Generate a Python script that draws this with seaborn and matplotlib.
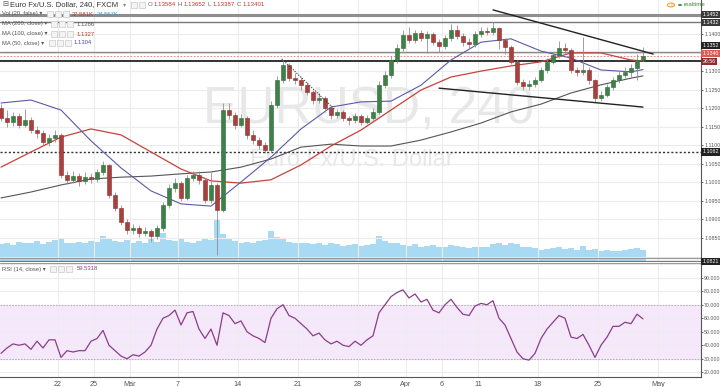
import numpy as np
import pandas as pd
import matplotlib
matplotlib.use("Agg")
import matplotlib.pyplot as plt
from matplotlib.patches import Rectangle, Circle
from matplotlib.lines import Line2D
from matplotlib.ticker import FormatStrFormatter
import seaborn as sns

# ---------------- data (12h candles, EUR/USD) ----------------
first_open = 1.1200
close = [1.1174, 1.1163, 1.1179, 1.1155, 1.1168, 1.1141, 1.1133, 1.1109, 1.1120, 1.1128,
         1.1020, 1.1006, 1.1017, 1.1004, 1.1015, 1.1009, 1.1028, 1.1047, 1.0966, 1.0931,
         1.0893, 1.0872, 1.0877, 1.0864, 1.0869, 1.0855, 1.0877, 1.0939, 1.0985, 1.0998,
         1.0958, 1.1012, 1.1020, 1.1006, 1.0952, 1.0993, 1.0926, 1.1195, 1.1182, 1.1155,
         1.1174, 1.1128, 1.1114, 1.1101, 1.1087, 1.1209, 1.1276, 1.1316, 1.1281, 1.1276,
         1.1262, 1.1244, 1.1222, 1.1228, 1.1200, 1.1182, 1.1190, 1.1174, 1.1168, 1.1179,
         1.1163, 1.1174, 1.1190, 1.1263, 1.1290, 1.1330, 1.1362, 1.1397, 1.1384, 1.1403,
         1.1389, 1.1400, 1.1378, 1.1368, 1.1389, 1.1411, 1.1395, 1.1378, 1.1373, 1.1400,
         1.1408, 1.1405, 1.1416, 1.1384, 1.1365, 1.1325, 1.1271, 1.1260, 1.1265, 1.1276,
         1.1303, 1.1325, 1.1343, 1.1362, 1.1357, 1.1303, 1.1298, 1.1303, 1.1276, 1.1228,
         1.1236, 1.1257, 1.1276, 1.1290, 1.1298, 1.1308, 1.1330, 1.1340]
high = [1.1212, 1.1195, 1.1190, 1.1186, 1.1197, 1.1175, 1.1152, 1.1140, 1.1131, 1.1141,
        1.1133, 1.1031, 1.1030, 1.1026, 1.1027, 1.1024, 1.1036, 1.1058, 1.1050, 1.0975,
        1.0940, 1.0900, 1.0888, 1.0884, 1.0880, 1.0875, 1.0884, 1.0948, 1.0996, 1.1012,
        1.1004, 1.1020, 1.1031, 1.1030, 1.1012, 1.1028, 1.0998, 1.1214, 1.1214, 1.1190,
        1.1185, 1.1180, 1.1140, 1.1122, 1.1110, 1.1220, 1.1288, 1.1330, 1.1322, 1.1295,
        1.1284, 1.1270, 1.1250, 1.1240, 1.1234, 1.1208, 1.1198, 1.1196, 1.1180, 1.1186,
        1.1184, 1.1182, 1.1200, 1.1272, 1.1300, 1.1340, 1.1372, 1.1412, 1.1420, 1.1412,
        1.1410, 1.1408, 1.1405, 1.1386, 1.1398, 1.1428, 1.1425, 1.1402, 1.1388, 1.1408,
        1.1418, 1.1420, 1.1432, 1.1420, 1.1390, 1.1370, 1.1330, 1.1278, 1.1276, 1.1285,
        1.1312, 1.1334, 1.1352, 1.1380, 1.1375, 1.1362, 1.1312, 1.1392, 1.1310, 1.1280,
        1.1245, 1.1265, 1.1285, 1.1300, 1.1310, 1.1318, 1.1345, 1.1365]
low = [1.1165, 1.1150, 1.1152, 1.1146, 1.1148, 1.1132, 1.1120, 1.1100, 1.1098, 1.1110,
       1.1012, 1.0995, 1.0998, 1.0990, 1.0996, 1.0999, 1.1002, 1.1020, 1.0958, 1.0922,
       1.0885, 1.0862, 1.0860, 1.0853, 1.0856, 1.0839, 1.0848, 1.0870, 1.0930, 1.0975,
       1.0950, 1.0952, 1.1003, 1.0996, 1.0944, 1.0945, 1.0805, 1.0920, 1.1170, 1.1145,
       1.1148, 1.1118, 1.1104, 1.1090, 1.1079, 1.1082, 1.1200, 1.1268, 1.1272, 1.1265,
       1.1250, 1.1235, 1.1212, 1.1214, 1.1190, 1.1172, 1.1174, 1.1165, 1.1155, 1.1160,
       1.1155, 1.1158, 1.1168, 1.1185, 1.1255, 1.1282, 1.1322, 1.1355, 1.1375, 1.1376,
       1.1380, 1.1350, 1.1370, 1.1352, 1.1360, 1.1382, 1.1386, 1.1368, 1.1362, 1.1366,
       1.1392, 1.1396, 1.1398, 1.1360, 1.1345, 1.1318, 1.1262, 1.1248, 1.1250, 1.1256,
       1.1270, 1.1296, 1.1318, 1.1336, 1.1345, 1.1296, 1.1288, 1.1290, 1.1265, 1.1217,
       1.1220, 1.1230, 1.1250, 1.1268, 1.1282, 1.1285, 1.1276, 1.1327]
volume_k = [42, 45, 40, 48, 44, 46, 50, 43, 47, 52,
            58, 46, 44, 48, 45, 50, 47, 62, 55, 50,
            48, 52, 46, 50, 44, 56, 48, 70, 52, 50,
            55, 48, 46, 50, 54, 52, 105, 68, 55, 50,
            46, 48, 44, 50, 52, 75, 60, 55, 48, 45,
            44, 46, 42, 45, 40, 44, 42, 38, 40, 42,
            38, 40, 42, 62, 50, 46, 44, 40, 38, 42,
            36, 38, 40, 36, 34, 40, 38, 34, 32, 36,
            34, 36, 42, 45, 40, 44, 42, 36, 34, 32,
            28, 30, 32, 34, 30, 32, 28, 38, 28, 30,
            26, 28, 24, 26, 28, 30, 32, 28]
rsi = [34, 38, 41, 40, 41, 37, 43, 38, 44, 44,
       31, 36, 35, 36, 36, 43, 45, 51, 40, 36,
       32, 30, 33, 32, 35, 40, 52, 60, 62, 66,
       55, 64, 65, 52, 45, 52, 40, 64, 62, 56,
       58, 50, 47, 45, 42, 60, 67, 70, 62, 60,
       56, 52, 47, 49, 44, 41, 43, 40, 39, 43,
       40, 44, 47, 64, 70, 76, 79, 81, 75, 78,
       72, 74, 66, 64, 70, 74, 68, 63, 62, 69,
       71, 70, 73, 60, 55, 45, 35, 30, 29, 34,
       45, 52, 57, 62, 60, 46, 45, 48, 40, 31,
       40, 46, 54, 54, 57, 56, 63, 59.5318]

ma_idx = [0, 5, 10, 15, 20, 25, 30, 35, 40, 45, 50, 55, 60, 65, 70, 75, 80, 85, 90, 95, 100, 105, 107]
ma200 = [1.0958, 1.0974, 1.0993, 1.1009, 1.1014, 1.1017, 1.1023, 1.1028, 1.1041, 1.1063, 1.1095, 1.1103,
         1.1098, 1.1098, 1.1114, 1.1136, 1.1160, 1.1190, 1.1211, 1.1241, 1.1263, 1.1281, 1.1287]
ma100 = [1.1041, 1.1082, 1.1122, 1.1144, 1.1128, 1.1082, 1.1036, 1.1004, 1.0998, 1.1007, 1.1047, 1.1098,
         1.1141, 1.1195, 1.1249, 1.1284, 1.1300, 1.1314, 1.1325, 1.1349, 1.1349, 1.1330, 1.1327]
ma50 = [1.1214, 1.1222, 1.1195, 1.1112, 1.1039, 1.0977, 1.0942, 1.0936, 1.1001, 1.1068, 1.1144, 1.1203,
        1.1217, 1.1219, 1.1262, 1.1330, 1.1378, 1.1387, 1.1354, 1.1335, 1.1303, 1.1298, 1.1304]

tick_labels = ['22', '25', 'Mar', '7', '14', '21', '28', 'Apr', '6', '11', '18', '25', 'May']
tick_days = [5, 8, 11, 15, 20, 25, 30, 34, 37, 40, 45, 50, 55]   # trading days after Feb 15
price_ticks = [1.0850, 1.0900, 1.0950, 1.1000, 1.1050, 1.1100, 1.1150, 1.1200,
               1.1250, 1.1300, 1.1400]
rsi_ticks = [20, 30, 40, 50, 60, 70, 80, 90]

upper_trend_x, upper_trend_y = [82.0, 108.7], [1.1465, 1.1346]
lower_trend_x, lower_trend_y = [73.0, 107.0], [1.1254, 1.1203]
dotted_trend_x, dotted_trend_y = [46.8, 55.7], [1.1333, 1.1195]

last_price = 1.1340

# ---------------- figure ----------------
sns.set_theme(style="white")
plt.rcParams['font.family'] = ['Liberation Sans', 'DejaVu Sans']

W, H = 720, 387
fig = plt.figure(figsize=(W / 100, H / 100), dpi=100)
fig.patch.set_facecolor('white')


def fx(px):
    return px / W


def fy(py):
    return 1 - py / H


n = len(close)
x = np.arange(n)
opens = [first_open] + close[:-1]
df = pd.DataFrame({'x': x, 'open': opens, 'high': high, 'low': low,
                   'close': close, 'vol': volume_k, 'rsi': rsi})
ma_df = pd.DataFrame({'x': ma_idx, 'ma200': ma200, 'ma100': ma100, 'ma50': ma50})
XL = (-1 / 6, 700 / 6)
tick_pos = [2 * d - 0.5 for d in tick_days]
GRID = '#ececec'
AXFS = 3.8   # right-axis label size

# ---- volume pane (behind the price pane) ----
axv = fig.add_axes([0, fy(262), fx(701), 262 / H])
axv.set_xlim(XL)
axv.set_ylim(-2.5, 261 * 2.5)
axv.bar(df['x'], df['vol'], width=1.0, color='#a9daf3', edgecolor='none', zorder=1)
axv.axis('off')

# ---- price pane ----
ax = fig.add_axes([0, fy(262), fx(701), 262 / H])
ax.patch.set_alpha(0)
ax.set_xlim(XL)
ax.set_ylim(1.07853, 1.14917)
for lv in np.arange(1.080, 1.1451, 0.005):
    ax.axhline(lv, color=GRID, lw=0.8, zorder=0)
for tp in tick_pos:
    ax.axvline(tp, color=GRID, lw=0.8, zorder=0)

# watermark
ax.text(fx(203) / fx(701), 1 - 110 / 262, 'EURUSD, 240', transform=ax.transAxes,
        fontsize=37, color='#e8e8e8', ha='left', va='center', zorder=0.5)
ax.text(fx(250) / fx(701), 1 - 160 / 262, 'Euro Fx/U.S. Dollar', transform=ax.transAxes,
        fontsize=17, color='#e8e8e8', ha='left', va='center', zorder=0.5)

# horizontal levels
ax.axhline(1.1452, color='#8e8e8e', lw=2.2, zorder=2)
ax.axhline(1.1432, color='#7a7a7a', lw=1.0, zorder=2)
ax.axhline(1.1352, color='#8a8a8a', lw=1.0, zorder=2)
ax.axhline(last_price, color='#e07a72', lw=0.6, ls=(0, (2, 2)), zorder=2)
ax.axhline(1.1327, color='#222222', lw=1.3, zorder=2)
ax.axhline(1.1082, color='#333333', lw=1.0, ls=(0, (1.5, 1.5)), zorder=2)
ax.axhline(1.0797, color='#9a9a9a', lw=0.9, zorder=2)
ax.axhline(1.0788, color='#777777', lw=0.9, zorder=2)

# moving averages (seaborn)
sns.lineplot(data=ma_df, x='x', y='ma200', ax=ax, color='#555555', lw=0.8, zorder=3)
sns.lineplot(data=ma_df, x='x', y='ma100', ax=ax, color='#c8423c', lw=0.9, zorder=3)
sns.lineplot(data=ma_df, x='x', y='ma50', ax=ax, color='#5a5aa8', lw=0.8, zorder=3)

# candles
up = df['close'] >= df['open']
ax.vlines(df['x'], df['low'], df['high'], color='#8f8f8f', lw=0.6, zorder=4)
body_h = (df['close'] - df['open']).abs().clip(lower=0.00006)
body_b = df[['open', 'close']].min(axis=1)
ax.bar(df['x'][up], body_h[up], bottom=body_b[up], width=0.6,
       color='#3f8048', edgecolor='#2e6a37', lw=0.4, zorder=5)
ax.bar(df['x'][~up], body_h[~up], bottom=body_b[~up], width=0.6,
       color='#a8413e', edgecolor='#8a2f2c', lw=0.4, zorder=5)

# trend lines
ax.plot(upper_trend_x, upper_trend_y, color='#222222', lw=1.0, zorder=6)
ax.plot(lower_trend_x, lower_trend_y, color='#222222', lw=1.0, zorder=6)
ax.plot(dotted_trend_x, dotted_trend_y, color='#333333', lw=0.8, ls=(0, (1, 1.3)), zorder=6)

ax.set_xlabel('')
ax.set_ylabel('')
ax.set_xticks([])
ax.yaxis.tick_right()
ax.set_yticks(price_ticks)
ax.yaxis.set_major_formatter(FormatStrFormatter('%.4f'))
ax.tick_params(axis='y', labelsize=AXFS, colors='#555555', length=1.5, width=0.6, pad=0.8, direction='out')
for s in ['top', 'left', 'bottom']:
    ax.spines[s].set_visible(False)
ax.spines['right'].set_color('#555555')
ax.spines['right'].set_linewidth(0.8)

# ---- RSI pane ----
axr = fig.add_axes([0, fy(377), fx(701), (377 - 263) / H])
axr.set_xlim(XL)
axr.set_ylim(16.5, 100.9)
axr.axhspan(30, 70, color='#f5e8fb', zorder=0)
for lv in range(20, 101, 10):
    axr.axhline(lv, color=GRID, lw=0.8, zorder=0.5)
for tp in tick_pos:
    axr.axvline(tp, color=GRID, lw=0.8, zorder=0.5)
axr.axhline(70, color='#b3a3bb', lw=0.6, ls=(0, (2, 1.5)), zorder=1)
axr.axhline(30, color='#b3a3bb', lw=0.6, ls=(0, (2, 1.5)), zorder=1)
sns.lineplot(data=df, x='x', y='rsi', ax=axr, color='#8b3d8b', lw=0.9, zorder=3)
axr.set_xlabel('')
axr.set_ylabel('')
axr.yaxis.tick_right()
axr.set_yticks(rsi_ticks)
axr.yaxis.set_major_formatter(FormatStrFormatter('%.3f'))
axr.tick_params(axis='y', labelsize=AXFS, colors='#555555', length=1.5, width=0.6, pad=0.8)
axr.set_xticks(tick_pos)
axr.set_xticklabels(tick_labels)
axr.tick_params(axis='x', labelsize=5.2, colors='#555555', length=0, pad=3)
for s in ['top', 'left']:
    axr.spines[s].set_visible(False)
for s in ['right', 'bottom']:
    axr.spines[s].set_color('#555555')
    axr.spines[s].set_linewidth(0.8)

# pane separator
fig.add_artist(Line2D([0, 1], [fy(262.5)] * 2, color='#9a9a9a', lw=0.8, transform=fig.transFigure))

# ---- right-side price labels ----
def plabel(text, py, fc):
    fig.text(fx(702.4), fy(py), text, fontsize=AXFS, color='white', ha='left', va='center',
             bbox=dict(boxstyle='square,pad=0.2', fc=fc, ec='none'), zorder=20)

plabel('1.1452', 14.8, '#3a3a3a')
plabel('1.1432', 22.3, '#3a3a3a')
plabel('1.1352', 45.4, '#222222')
plabel('1.1340', 53.4, '#de5a52')
plabel('26:56', 61.4, '#8e2f2b')
plabel('1.1082', 152, '#222222')
plabel('1.0821', 261.5, '#222222')

# ---- header / legends ----
def box(px, py):
    fig.add_artist(Rectangle((fx(px), fy(py + 3.0)), 6 / W, 6.0 / H, transform=fig.transFigure,
                             fc='#f3f3f3', ec='#c9c9c9', lw=0.5, zorder=20))

def ftext(px, py, s, color='#555555', size=4.2):
    fig.text(fx(px), fy(py), s, fontsize=size, color=color, ha='left', va='center', zorder=21)

ftext(2, 5, '⊟', '#555555', 5.2)
ftext(10, 5, 'Euro Fx/U.S. Dollar, 240, FXCM', '#333333', 5.5)
ftext(123, 5, '▾', '#888888', 4.5)
box(131, 5)
box(139, 5)
RED = '#c0392b'
ftext(148, 5, 'O', '#666666', 4.4)
ftext(154, 5, '1.13584', RED, 4.4)
ftext(178, 5, 'H', '#666666', 4.4)
ftext(184, 5, '1.13652', RED, 4.4)
ftext(208, 5, 'L', '#666666', 4.4)
ftext(213, 5, '1.13387', RED, 4.4)
ftext(237, 5, 'C', '#666666', 4.4)
ftext(243, 5, '1.13401', RED, 4.4)

ftext(2, 14, 'Vol (20, false) ▾')
for bx in (47, 55, 63):
    box(bx, 14)
ftext(72, 14, '37.581K', RED)
ftext(97, 14, '34.557K', '#3a9bdc')

ftext(2, 24, 'MA (200, close) ▾')
for bx in (51, 59, 67):
    box(bx, 24)
ftext(77, 24, '1.1286', '#555555')

ftext(2, 34, 'MA (100, close) ▾')
for bx in (51, 59, 67):
    box(bx, 34)
ftext(77, 34, '1.1327', RED)

ftext(2, 43, 'MA (50, close) ▾')
for bx in (49, 57, 65):
    box(bx, 43)
ftext(74, 43, '1.1304', '#4a4aa0')

ftext(2, 269, 'RSI (14, close) ▾')
for bx in (50, 58, 66):
    box(bx, 269)
ftext(77, 269, '59.5318', '#8b3d8b')

# realtime badge
fig.add_artist(Circle((fx(671), fy(5)), 3.6 / W, transform=fig.transFigure,
                      fc='white', ec='#f0a030', lw=0.8, zorder=20))
fig.text(fx(671), fy(5.2), '!', fontsize=4.5, color='#f0a030', ha='center', va='center',
         zorder=21, fontweight='bold')
fig.add_artist(Circle((fx(680), fy(5)), 2.0 / W, transform=fig.transFigure,
                      fc='#3a9a3a', ec='none', zorder=20))
ftext(684, 5, 'realtime', '#3a8a3a', 4.4)

fig.savefig('out.png', dpi=100, facecolor='white')
